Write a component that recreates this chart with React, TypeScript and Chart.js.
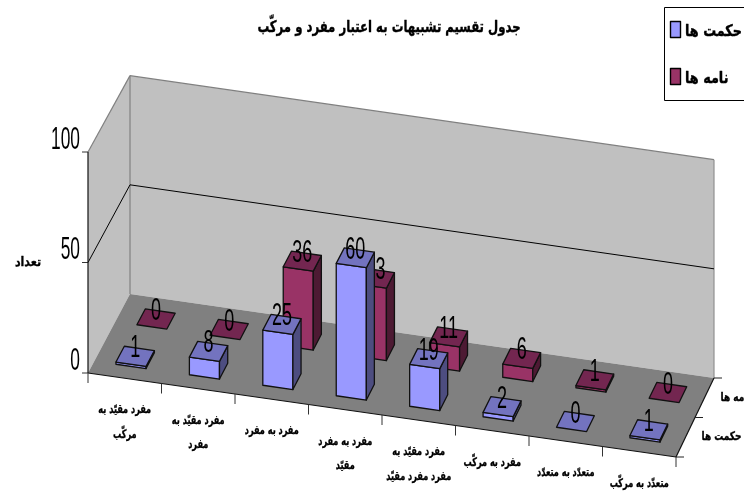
import React, { useEffect, useRef } from "react";
import { Chart, registerables } from "chart.js";

Chart.register(...registerables);

const chartTitle = "جدول تقسیم تشبیهات به اعتبار مفرد و مرکّب";
const yAxisTitle = "تعداد";
const categories: string[][] = [
  ["مفرد مقیّد به", "مرکّب"],
  ["مفرد مقیّد به", "مفرد"],
  ["مفرد به مفرد"],
  ["مفرد به مفرد", "مقیّد"],
  ["مفرد مقیّد به", "مفرد مفرد مقیّد"],
  ["مفرد به مرکّب"],
  ["متعدّد به متعدّد"],
  ["متعدّد به مرکّب"],
];
const hekmatLabel = "حکمت ها";
const namehLabel = "نامه ها";
const hekmatValues = [1, 8, 25, 60, 19, 2, 0, 1];
const namehValues = [0, 0, 36, 33, 11, 6, 1, 0];

const ARABIC = '"DejaVu Sans"';
const DIGITS = '"Liberation Sans"';

type Row = { d0: number; d1: number; front: string; top: string; side: string };
const rows: Record<string, Row> = {
  [namehLabel]: { d0: 0.65, d1: 0.85, front: "#993366", top: "#732650", side: "#4d1a33" },
  [hekmatLabel]: { d0: 0.15, d1: 0.35, front: "#9999ff", top: "#7373bf", side: "#4d4d80" },
};

function text(
  ctx: CanvasRenderingContext2D,
  s: string,
  x: number,
  y: number,
  font: string,
  sx: number,
  align: CanvasTextAlign = "center",
  baseline: CanvasTextBaseline = "middle",
  heavy = 0
) {
  ctx.save();
  ctx.translate(x, y);
  ctx.scale(sx, 1);
  ctx.font = font;
  ctx.textAlign = align;
  ctx.textBaseline = baseline;
  ctx.fillStyle = "#000";
  ctx.fillText(s, 0, 0);
  if (heavy) {
    ctx.strokeStyle = "#000";
    ctx.lineWidth = heavy;
    ctx.lineJoin = "round";
    ctx.strokeText(s, 0, 0);
  }
  ctx.restore();
}

const scene3d = {
  id: "scene3d",
  beforeDatasetsDraw(chart: any) {
    const ctx: CanvasRenderingContext2D = chart.ctx;
    const { x: xs, y: ys } = chart.scales;
    const L = xs.left;
    const W = xs.right - xs.left;
    const B = ys.bottom;
    const slope = 84;
    // oblique projection of a (pixel x, pixel y, depth) point on to the canvas
    const P = (px: number, py: number, d: number): [number, number] => {
      const t = (px - L) / W;
      return [
        px + d * (42 - 4 * t),
        B + t * slope - d * 79 + (py - B) * (1 - 0.012 * d),
      ];
    };
    const poly = (pts: [number, number][], fill: string | null, stroke: string | null, lw = 1) => {
      ctx.beginPath();
      pts.forEach((p, i) => (i ? ctx.lineTo(p[0], p[1]) : ctx.moveTo(p[0], p[1])));
      ctx.closePath();
      if (fill) {
        ctx.fillStyle = fill;
        ctx.fill();
      }
      if (stroke) {
        ctx.strokeStyle = stroke;
        ctx.lineWidth = lw;
        ctx.lineJoin = "round";
        ctx.stroke();
      }
    };
    const line = (a: [number, number], b: [number, number], c: string, lw = 1) => {
      ctx.beginPath();
      ctx.moveTo(a[0], a[1]);
      ctx.lineTo(b[0], b[1]);
      ctx.strokeStyle = c;
      ctx.lineWidth = lw;
      ctx.stroke();
    };
    const R = xs.right;
    const T = ys.top;

    // walls and floor
    poly([P(L, B, 0), P(L, T, 0), P(L, T, 1), P(L, B, 1)], "#c0c0c0", null);
    poly([P(L, B, 1), P(L, T, 1), P(R, T, 1), P(R, B, 1)], "#c0c0c0", null);
    poly([P(L, B, 0), P(L, B, 1), P(R, B, 1), P(R, B, 0)], "#808080", null);
    line(P(L, T, 0), P(L, T, 1), "#808080", 1.2);
    line(P(L, T, 1), P(R, T, 1), "#808080", 1.2);
    line(P(L, T, 1), P(L, B, 1), "#808080", 1.2);
    line(P(R, T, 1), P(R, B, 1), "#909090", 1.2);

    // value axis: grid lines, ticks, labels
    ys.ticks.forEach((tick: any) => {
      const py = ys.getPixelForValue(tick.value);
      if (tick.value > 0 && tick.value < 100) {
        line(P(L, py, 0), P(L, py, 1), "#000");
        line(P(L, py, 1), P(R, py, 1), "#000");
      }
      const a = P(L, py, 0);
      line([a[0] - 6, a[1]], a, "#333");
      text(ctx, String(tick.value), a[0] - 8, a[1] - 12, `31px ${DIGITS}`, 0.56, "right");
    });
    line(P(L, T, 0), P(L, B, 0), "#111", 1.2);
    line(P(L, B, 0), P(R, B, 0), "#111", 1.2);
    line(P(R, B, 0), P(R, B, 1), "#111", 1.2);

    // category axis: ticks and labels
    const step = W / categories.length;
    for (let i = 0; i <= categories.length; i++) {
      const a = P(L + i * step, B, 0);
      line(a, [a[0], a[1] + 10], "#333");
    }
    categories.forEach((lines, i) => {
      const a = P(xs.getPixelForValue(i), B, 0);
      lines.forEach((s, j) => {
        text(ctx, s, a[0], a[1] + 32 + j * 24.5, `bold 12px ${ARABIC}`, 0.68, "center", "middle", 0.35);
      });
    });

    // series axis: ticks and labels
    [0, 0.5, 1].forEach((d) => {
      const a = P(R, B, d);
      line(a, [a[0] + 8, a[1]], "#222");
    });
    const sers = chart.data.datasets;
    sers.forEach((ds: any) => {
      const r = rows[ds.label];
      const a = P(R, B, (r.d0 + r.d1) / 2);
      text(ctx, ds.label, a[0] + 16, a[1] + 0, `bold 12px ${ARABIC}`, 0.75, "left", "middle", 0.35);
    });

    // bars, back row first, each with its value
    sers.forEach((ds: any, di: number) => {
      const r = rows[ds.label];
      chart.getDatasetMeta(di).data.forEach((el: any, i: number) => {
        const xl = el.x - el.width / 2;
        const xr = el.x + el.width / 2;
        const base = el.base;
        const top = el.y;
        const K = "#111";
        if (top < base - 0.01) {
          poly([P(xl, base, r.d0), P(xr, base, r.d0), P(xr, top, r.d0), P(xl, top, r.d0)], r.front, K, 1.3);
          poly([P(xr, base, r.d0), P(xr, base, r.d1), P(xr, top, r.d1), P(xr, top, r.d0)], r.side, K, 1.3);
        }
        poly([P(xl, top, r.d0), P(xr, top, r.d0), P(xr, top, r.d1), P(xl, top, r.d1)], r.top, K, 1.3);
        const c = P(el.x, top, (r.d0 + r.d1) / 2);
        text(ctx, String(ds.data[i]), c[0], c[1] + 1, `31px ${DIGITS}`, 0.58, "center", "alphabetic");
      });
    });

    // headings
    text(ctx, chartTitle, 389, 28, `bold 16px ${ARABIC}`, 0.73, "center", "middle", 0.4);
    text(ctx, yAxisTitle, 28, 263, `bold 13px ${ARABIC}`, 0.85, "center", "middle", 0.35);

    // legend
    ctx.fillStyle = "#fff";
    ctx.fillRect(664.5, 7.5, 90, 93);
    ctx.strokeStyle = "#000";
    ctx.lineWidth = 1;
    ctx.strokeRect(664.5, 7.5, 90, 93);
    sers
      .slice()
      .reverse()
      .forEach((ds: any, i: number) => {
        const y = 21.5 + i * 47;
        ctx.fillStyle = rows[ds.label].front;
        ctx.fillRect(670.5, y, 10, 16);
        ctx.strokeStyle = "#000";
        ctx.lineWidth = 1.4;
        ctx.strokeRect(670.5, y, 10, 16);
        text(ctx, ds.label, 685, y + 10, `bold 16px ${ARABIC}`, 0.8, "left", "middle", 0.4);
      });
    return false;
  },
};

export default function App() {
  const ref = useRef<HTMLCanvasElement>(null);
  useEffect(() => {
    const chart = new Chart(ref.current!, {
      type: "bar",
      data: {
        labels: categories,
        datasets: [
          { label: namehLabel, data: namehValues, backgroundColor: "#993366" },
          { label: hekmatLabel, data: hekmatValues, backgroundColor: "#9999ff" },
        ],
      },
      options: {
        animation: false,
        responsive: false,
        devicePixelRatio: 1,
        layout: { padding: { left: 88, right: 68, top: 152, bottom: 121 } },
        plugins: { legend: { display: false }, title: { display: false }, tooltip: { enabled: false } },
        datasets: { bar: { grouped: false, categoryPercentage: 1, barPercentage: 0.41 } },
        scales: {
          x: { type: "category", display: false, offset: true },
          y: { type: "linear", display: false, min: 0, max: 100, ticks: { stepSize: 50 } },
        },
      },
      plugins: [scene3d],
    } as any);
    return () => chart.destroy();
  }, []);
  return (
    <div style={{ position: "fixed", left: 0, top: 0, width: 744, height: 494, background: "#fff" }}>
      <canvas ref={ref} width={744} height={494} style={{ display: "block" }} />
    </div>
  );
}
